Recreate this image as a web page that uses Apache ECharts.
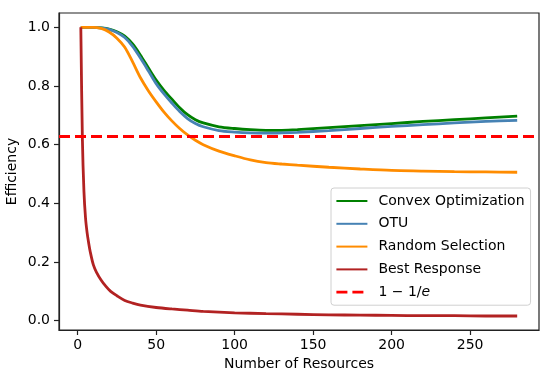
<!DOCTYPE html>
<html>
<head>
<meta charset="utf-8">
<script src="https://cdn.jsdelivr.net/npm/echarts@6/dist/echarts.min.js"></script>
<style>html,body{margin:0;padding:0;background:#fff}#c{width:550px;height:377px}</style>
</head>
<body>
<div id="c"></div>
<script>
const xs = [2,5,10,15,20,25,30,35,40,45,50,55,60,65,70,75,80,90,100,110,120,130,140,160,180,200,220,240,260,280];
const convex = [1,1,1,0.998,0.994,0.985,0.97,0.943,0.905,0.862,0.82,0.785,0.755,0.726,0.702,0.685,0.674,0.661,0.655,0.651,0.649,0.649,0.651,0.658,0.665,0.672,0.679,0.685,0.691,0.697];
const otu = [1,1,1,0.998,0.993,0.982,0.965,0.935,0.895,0.852,0.808,0.773,0.742,0.713,0.689,0.672,0.661,0.648,0.643,0.64,0.639,0.64,0.642,0.648,0.655,0.662,0.668,0.674,0.679,0.683];
const randomSel = [1,1,1,0.996,0.984,0.963,0.932,0.882,0.828,0.784,0.746,0.711,0.681,0.655,0.633,0.615,0.60,0.578,0.562,0.548,0.539,0.534,0.530,0.523,0.517,0.512,0.510,0.508,0.507,0.506];
const brX = [2,3,4,5,6,7,8,10,12,15,18,21,25,30,35,40,50,60,70,80,100,120,140,160,180,200,220,240,260,280];
const bestResp = [1.0,0.62,0.44,0.35,0.30,0.265,0.235,0.19,0.165,0.138,0.117,0.1,0.085,0.069,0.06,0.053,0.045,0.04,0.036,0.032,0.027,0.024,0.022,0.020,0.019,0.018,0.017,0.017,0.016,0.016];
const ratio = 1 - 1/Math.E;
const xTicks = [0,50,100,150,200,250];
const yTicks = [0,0.2,0.4,0.6,0.8,1.0];
const names = ['Convex Optimization','OTU','Random Selection','Best Response','1 − 1/e'];
const colors = ['#008000','#4682b4','#ff8c00','#b22222','#ff0000'];

const FONT = 'DejaVu Sans';
const FS = 14;
const pair = (x, y) => x.map((v, i) => [v, y[i]]);
function lineSeries(name, color, data) {
  return {
    name, type: 'line', data, symbol: 'none', smooth: 0.3,
    lineStyle: {color, width: 2.8}, itemStyle: {color}, z: 2
  };
}
const chart = echarts.init(document.getElementById('c'), null, {renderer: 'canvas'});
chart.setOption({
  animation: false,
  backgroundColor: '#fff',
  textStyle: {fontFamily: FONT},
  grid: {left: 59, top: 13, right: 11, bottom: 47, containLabel: false, outerBoundsMode: 'none',
    show: true, borderColor: '#222', borderWidth: 1.2, backgroundColor: 'transparent'},
  xAxis: {
    type: 'value', min: -11.9, max: 293.9,
    name: 'Number of Resources', nameLocation: 'middle', nameGap: 27, nameMoveOverlap: false,
    nameTextStyle: {fontFamily: FONT, fontSize: FS, color: '#000'},
    axisLine: {show: true, onZero: false, lineStyle: {color: '#222', width: 1.2}},
    axisTick: {show: true, length: 5, customValues: xTicks, lineStyle: {color: '#222', width: 1.2}},
    axisLabel: {customValues: xTicks, fontFamily: FONT, fontSize: FS, color: '#000', margin: 8},
    splitLine: {show: false}
  },
  yAxis: {
    type: 'value', min: -0.0317, max: 1.0487,
    name: 'Efficiency', nameLocation: 'middle', nameGap: 40, nameRotate: 90, nameMoveOverlap: false,
    nameTextStyle: {fontFamily: FONT, fontSize: FS, color: '#000'},
    axisLine: {show: true, onZero: false, lineStyle: {color: '#222', width: 1.2}},
    axisTick: {show: true, length: 5, customValues: yTicks, lineStyle: {color: '#222', width: 1.2}},
    axisLabel: {customValues: yTicks, fontFamily: FONT, fontSize: FS, color: '#000', margin: 9,
      formatter: v => v.toFixed(1)},
    splitLine: {show: false}
  },
  legend: {
    data: names.map((n, i) => i === 4 ? {name: n, lineStyle: {type: [11, 5], width: 2.8}} : {name: n}),
    orient: 'vertical', left: 331, top: 188,
    padding: [6, 6, 6, 4], itemGap: 8.8, itemWidth: 31, itemHeight: 12,
    itemStyle: {opacity: 0},
    backgroundColor: 'rgba(255,255,255,0.8)', borderColor: '#d0d0d0', borderWidth: 1, borderRadius: 3,
    textStyle: {fontFamily: FONT, fontSize: FS, color: '#000', padding: [0, 0, 0, 6],
      rich: {it: {fontFamily: FONT, fontSize: FS, fontStyle: 'italic', color: '#000'}}},
    formatter: n => n === names[4] ? '1 − 1/{it|e}' : n
  },
  series: [
    lineSeries(names[0], colors[0], pair(xs, convex)),
    lineSeries(names[1], colors[1], pair(xs, otu)),
    lineSeries(names[2], colors[2], pair(xs, randomSel)),
    lineSeries(names[3], colors[3], pair(brX, bestResp)),
    {
      name: names[4], type: 'line', data: [], symbol: 'none',
      itemStyle: {color: colors[4]},
      lineStyle: {color: colors[4], width: 2.8, type: [11, 5]},
      markLine: {
        silent: true, symbol: 'none', label: {show: false},
        lineStyle: {color: colors[4], width: 2.8, type: [11, 5]},
        data: [{yAxis: ratio}]
      },
      z: 3
    }
  ]
});
</script>
</body>
</html>
